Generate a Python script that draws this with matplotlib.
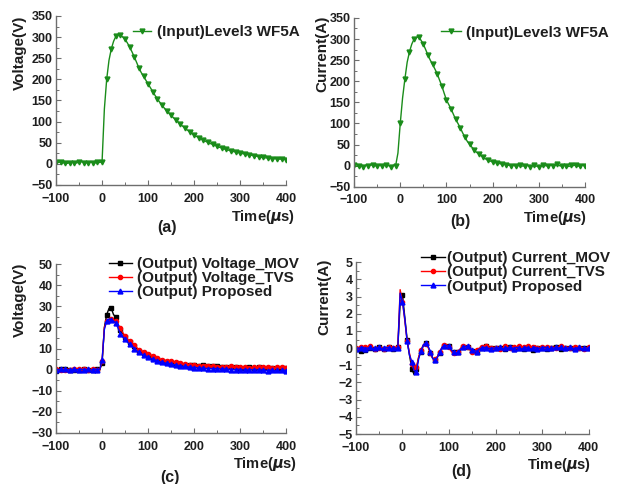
import numpy as np
import matplotlib
matplotlib.use("Agg")
import matplotlib.pyplot as plt
from matplotlib.ticker import MultipleLocator

plt.rcParams['font.family'] = ['Liberation Sans', 'DejaVu Sans']
plt.rcParams['font.weight'] = 'bold'
plt.rcParams['mathtext.fontset'] = 'dejavusans'

# ---------------- data ----------------
time_us = np.arange(-100, 401, 5)

# (a) input voltage, Level3 WF5A
volt_in = ([4, 3, 4, 2, 3, 1, 3, 4, 3, 2, 4, 5, 3, 2, 3, 4, 3, 2, 4, 3, 5]
           + [130, 200, 245, 272, 290, 302, 306, 305, 300, 295, 286, 276, 265, 253, 240, 227, 216, 207, 198]
           + [189, 180, 171, 162, 154, 146, 139, 132, 126, 120, 115, 109, 104, 99, 94, 89, 85, 80, 76, 72,
              68, 65, 62, 59, 56, 53, 51, 48, 46, 44, 41, 39, 38, 35, 34, 32, 31, 29, 28, 27,
              25, 24, 23, 22, 21, 20, 19, 18, 17, 15, 15, 14, 14, 13, 12, 12, 12, 11, 11, 11,
              10])

# (b) input current, Level3 WF5A
curr_in = ([1, -1, 0, 2, -2, 1, 0, 1, 2, 0, -1, 1, 0, 2, 1, 0, -2, 1, 0]
           + [30]
           + [100, 160, 205, 245, 270, 288, 300, 304, 305, 297, 288, 275, 262, 250, 240, 229, 218, 203, 189, 172,
              156, 145, 135, 122, 110, 100, 90, 78, 68, 58, 51, 44, 38, 32, 28, 24, 20, 16, 13, 11,
              9, 8, 6, 5, 4, 3, 2, 1, 0]
           + [1, -1, 0, 2, -1, 0, 1, -2, 0, 1, -1, -3, 0, 1, 0, -1, 2, 0, 1, 3, 0, -1, 1, 0, -2, 1, 0, 2, -1, 0, 1, -1])

# (c) output voltages
volt_mov = ([-0.5, -0.8, 0.2, -0.3, 0.1, -1.0, -0.4, 0.3, 0.0, 0.2, -0.2, 0.1, 0.3, 0.0, -0.1, 0.2, 0.0, -0.3, 0.1, 0.0]
            + [3, 20, 26, 29, 29, 26, 25, 21, 19, 17, 15.5, 14, 13, 12, 11, 10, 9, 8.5, 8, 7.5,
               7, 6.5, 6, 5.5, 5, 4.5, 4.2, 4, 3.8, 3.5, 3.3, 3.1, 3, 2.8, 2.6, 2.5, 2.4, 2.2, 2.1, 2, 2]
            + [2, 1.9, 1.8, 2, 1.7, 1.6, 1.8, 1.5, 1.4, 1.5, 1.3, 1.4, 1.2, 1.3, 1.1, 1.2, 1.0, 1.3, 1.1, 1.0,
               1.2, 0.9, 1.0, 1.1, 0.8, 1.0, 0.9, 1.2, 0.8, 0.9, 1.0, 0.7, 0.9, 0.8, 1.0, 0.7, 0.8, 0.9, 0.7, 0.8])
volt_tvs = ([0.3, 0.1, -0.2, 0.4, 0.0, 0.2, -0.1, 0.5, 0.1, 0.0, 0.3, -0.2, 0.1, 0.4, 0.0, -0.3, 0.2, 0.1, -0.4, 0.0]
            + [4, 20, 23, 23.5, 24, 23.5, 23, 21, 19.5, 17.5, 16, 14.5, 13.5, 12.5, 11.5, 10.5, 9.5, 9, 8.5, 8,
               7.5, 7, 6.5, 6, 5.5, 5, 4.8, 4.5, 4.2, 4, 4, 3.6, 3.4, 3.2, 3, 2.8, 2.6, 2.4, 2.3, 2.2, 2]
            + [2.2, 1.8, 2.0, 1.7, 2.5, 1.6, 1.9, 1.5, 1.7, 1.4, 1.6, 1.3, 1.5, 1.2, 1.4, 1.6, 1.2, 1.3, 1.1, 1.4,
               1.0, 1.2, 1.3, 1.0, 1.1, 1.4, 0.9, 1.2, 1.0, 1.3, 0.9, 1.1, 1.2, 0.9, 1.0, 1.3, 0.9, 1.1, 1.0, 1.0])
volt_prop = ([-0.2, 0.0, 0.1, -0.3, 0.2, 0.0, -0.2, 0.1, 0.3, -0.1, 0.0, 0.2, -0.1, 0.0, 0.1, -0.2, 0.0, 0.2, -0.1, 0.1]
             + [4.5, 19, 23, 24, 23.5, 23, 22, 19.5, 17, 15.5, 14.5, 13, 12, 11, 10, 9, 8.2, 7.5, 6.8, 6.3,
                5.8, 5.3, 4.9, 4.5, 4.2, 3.8, 3.5, 3.2, 3, 2.8, 2.6, 2.4, 2.2, 2, 1.8, 1.6, 1.5, 1.3, 1.2, 1.1, 1]
             + [0.9, 0.8, 0.7, 0.8, 0.6, 0.5, 0.6, 0.4, 0.5, 0.3, 0.4, 0.2, 0.3, 0.1, 0.2, 0.0, 0.1, -0.1, 0.2, 0.0,
                -0.2, 0.0, -0.1, -0.3, 0.0, -0.2, -0.1, -0.4, -0.2, -0.1, -0.3, -0.5, -0.2, -0.4, -0.6, -0.3, -0.9, -0.4, -0.3, -0.5])

# (d) output currents
curr_mov = ([-0.05, 0.0, -0.15, 0.05, -0.1, -0.1, 0.0, 0.05, -0.05, 0.0, 0.05, 0.0, -0.05, 0.0, 0.05, 0.0, -0.05, 0.0]
            + [0.05, 2.6, 3.1, 1.8, 0.5, -0.4, -1.2, -1.55, -1.2, -0.5, -0.2, 0.15, 0.3, 0.1, -0.3, -0.6, -0.7, -0.5,
               -0.3, 0.0, 0.15, 0.2, 0.1, -0.1, -0.25, -0.3, -0.25, -0.05, 0.05, 0.1, 0.05, -0.05, -0.15, -0.2,
               -0.25, -0.1, 0.0, 0.05, 0.1, 0.05, 0.0, -0.05, 0.0]
            + [-0.05, 0.0, 0.05, -0.05, 0.0, 0.05, 0.0, -0.05, 0.0, 0.0, 0.05, -0.05, 0.0, 0.0, 0.05, -0.1, 0.0, 0.0, 0.05, 0.0,
               0.0, -0.05, 0.05, 0.0, 0.1, 0.05, 0.0, -0.05, 0.0, 0.0, 0.05, 0.0, -0.05, 0.0, 0.05, 0.0, -0.05, 0.0, 0.05, 0.0])
curr_tvs = ([0.0, -0.05, 0.05, 0.0, 0.05, -0.05, 0.1, 0.0, -0.05, 0.05, 0.0, 0.05, -0.05, 0.0, 0.05, 0.0, 0.0, 0.05]
            + [0.05, 3.4, 2.7, 1.6, 0.4, -0.3, -0.9, -1.3, -1.1, -0.5, -0.1, 0.2, 0.25, 0.05, -0.3, -0.6, -0.65, -0.5,
               -0.2, 0.05, 0.2, 0.2, 0.05, -0.2, -0.3, -0.3, -0.2, 0.0, 0.1, 0.1, 0.05, -0.1, -0.2, -0.15,
               -0.1, 0.0, 0.05, 0.1, 0.15, 0.05, 0.0, -0.05, 0.0]
            + [0.05, -0.05, 0.0, 0.1, 0.05, 0.0, -0.05, 0.05, 0.0, 0.1, 0.0, 0.05, -0.05, 0.1, 0.0, 0.05, 0.15, 0.0, -0.05, 0.05,
               0.0, 0.05, -0.05, 0.0, 0.05, 0.0, 0.05, 0.1, -0.05, 0.0, 0.05, 0.0, -0.05, 0.05, 0.0, 0.0, 0.05, -0.05, 0.0, 0.05])
curr_prop = ([-0.05, 0.0, 0.0, 0.05, -0.05, 0.0, 0.05, -0.05, 0.0, 0.0, 0.05, -0.05, 0.0, 0.05, 0.0, -0.05, 0.0, 0.0]
             + [0.0, 3.2, 2.7, 1.7, 0.4, -0.4, -0.8, -1.3, -1.4, -0.6, -0.15, 0.2, 0.3, 0.1, -0.2, -0.6, -0.7, -0.55,
                -0.25, 0.05, 0.15, 0.15, 0.1, -0.1, -0.25, -0.3, -0.25, -0.05, 0.05, 0.1, 0.1, -0.05, -0.1, -0.15,
                -0.2, -0.05, 0.0, 0.05, 0.0, 0.0, -0.05, 0.0, 0.0]
             + [0.0, 0.05, -0.05, 0.0, 0.0, 0.05, 0.0, -0.05, 0.05, 0.0, -0.05, 0.0, 0.05, 0.0, -0.05, 0.0, 0.05, -0.05, 0.0, 0.0,
                0.05, 0.0, -0.05, 0.0, 0.0, 0.05, 0.0, 0.05, -0.05, 0.0, 0.0, 0.05, 0.0, -0.05, 0.0, 0.05, -0.05, 0.0, 0.0, 0.0])

legend_in = "(Input)Level3 WF5A"
legend_c = ["(Output) Voltage_MOV", "(Output) Voltage_TVS", "(Output) Proposed"]
legend_d = ["(Output) Current_MOV", "(Output) Current_TVS", "(Output) Proposed"]

# ---------------- figure ----------------
fig = plt.figure(figsize=(6.19, 4.84), dpi=100)

GREEN = '#1a8c1a'
AXCOL = '#6e6e6e'
TXT = '#1e1e1e'


def style(ax, ylim, ymaj, ymin):
    ax.set_xlim(-100, 400)
    ax.set_ylim(*ylim)
    ax.xaxis.set_major_locator(MultipleLocator(100))
    ax.xaxis.set_minor_locator(MultipleLocator(50))
    ax.yaxis.set_major_locator(MultipleLocator(ymaj))
    ax.yaxis.set_minor_locator(MultipleLocator(ymin))
    for s in ['top', 'right']:
        ax.spines[s].set_visible(False)
    for s in ['left', 'bottom']:
        ax.spines[s].set_linewidth(1.0)
        ax.spines[s].set_color(AXCOL)
    ax.tick_params(which='both', direction='in', labelsize=9, color=AXCOL, labelcolor=TXT)
    ax.tick_params(axis='x', which='both', pad=5.5)
    ax.tick_params(axis='y', which='both', pad=2.5)
    ax.tick_params(which='major', length=3.5, width=0.8)
    ax.tick_params(which='minor', length=2, width=0.7)
    for lab in ax.get_xticklabels() + ax.get_yticklabels():
        lab.set_fontweight('bold')


def labels(ax, ylab, ylx, yly, xlx, xly):
    ax.set_ylabel(ylab, fontsize=11, fontweight='bold', color=TXT)
    ax.yaxis.set_label_coords(ylx, yly)
    ax.set_xlabel("Time($\\mu$s)", fontsize=10.5, fontweight='bold', color=TXT)
    ax.xaxis.set_label_coords(xlx, xly)


# (a)
ax_a = fig.add_axes([0.0905, 0.618, 0.372, 0.349])
ax_a.plot(time_us, volt_in, color=GREEN, lw=1.0, marker='v', ms=3.5, markevery=2, label=legend_in)
style(ax_a, (-50, 350), 50, 25)
labels(ax_a, "Voltage(V)", -0.126, 0.784, 0.898, -0.135)
ax_a.legend(loc='upper left', bbox_to_anchor=(0.335, 0.945), frameon=False, fontsize=11,
            handlelength=1.2, handletextpad=0.35, borderaxespad=0, borderpad=0, numpoints=1,
            labelcolor=TXT)

# (b)
ax_b = fig.add_axes([0.572, 0.614, 0.373, 0.349])
ax_b.plot(time_us, curr_in, color=GREEN, lw=1.0, marker='v', ms=3.5, markevery=2, label=legend_in)
style(ax_b, (-50, 350), 50, 25)
labels(ax_b, "Current(A)", -0.108, 0.79, 0.87, -0.13)
ax_b.legend(loc='upper left', bbox_to_anchor=(0.375, 0.955), frameon=False, fontsize=11,
            handlelength=1.3, handletextpad=0.35, borderaxespad=0, borderpad=0, numpoints=1,
            labelcolor=TXT)

# (c)
ax_c = fig.add_axes([0.0905, 0.1054, 0.372, 0.349])
ax_c.plot(time_us, volt_mov, color='black', lw=1.0, marker='s', ms=3, markevery=2, label=legend_c[0])
ax_c.plot(time_us, volt_tvs, color='red', lw=1.0, marker='o', ms=3, markevery=2, label=legend_c[1])
ax_c.plot(time_us, volt_prop, color='blue', lw=1.0, marker='^', ms=3.5, markevery=2, label=legend_c[2])
style(ax_c, (-30, 50), 10, 5)
labels(ax_c, "Voltage(V)", -0.126, 0.787, 0.909, -0.13)
ax_c.legend(loc='upper left', bbox_to_anchor=(0.228, 1.04), frameon=False, fontsize=11,
            handlelength=1.55, handletextpad=0.3, borderaxespad=0, borderpad=0,
            labelspacing=0.0, numpoints=1, labelcolor=TXT)

# (d)
ax_d = fig.add_axes([0.575, 0.1033, 0.376, 0.355])
ax_d.plot(time_us, curr_mov, color='black', lw=1.0, marker='s', ms=3, markevery=2, label=legend_d[0])
ax_d.plot(time_us, curr_tvs, color='red', lw=1.0, marker='o', ms=3, markevery=2, label=legend_d[1])
ax_d.plot(time_us, curr_prop, color='blue', lw=1.0, marker='^', ms=3.5, markevery=2, label=legend_d[2])
style(ax_d, (-5, 5), 1, 0.5)
labels(ax_d, "Current(A)", -0.107, 0.80, 0.871, -0.13)
ax_d.legend(loc='upper left', bbox_to_anchor=(0.278, 1.065), frameon=False, fontsize=11,
            handlelength=1.6, handletextpad=0.15, borderaxespad=0, borderpad=0,
            labelspacing=0.02, numpoints=1, labelcolor=TXT)

# panel labels
for txt, x, y in [("(a)", 0.27, 0.529), ("(b)", 0.744, 0.542), ("(c)", 0.275, 0.014), ("(d)", 0.746, 0.025)]:
    fig.text(x, y, txt, fontsize=11.5, fontweight='bold', ha='center', va='center', color=TXT)

fig.savefig("out.png", dpi=100)
